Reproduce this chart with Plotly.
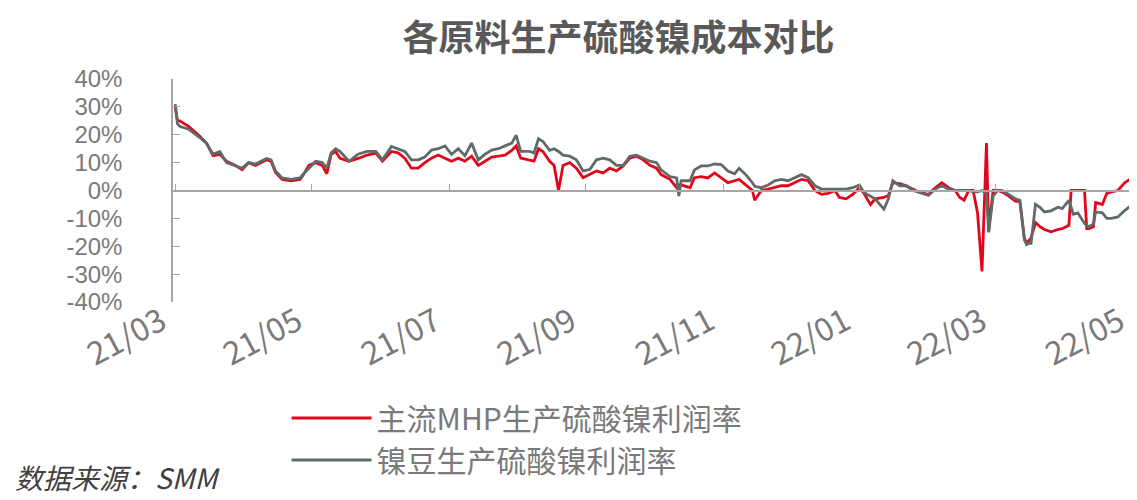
import plotly.graph_objects as go

dates = [
    "2021-03-01", "2021-03-02", "2021-03-03", "2021-03-07", "2021-03-12", "2021-03-15", "2021-03-18",
    "2021-03-21", "2021-03-24", "2021-03-28", "2021-03-31", "2021-04-03", "2021-04-06", "2021-04-11",
    "2021-04-13", "2021-04-15", "2021-04-18", "2021-04-22", "2021-04-26", "2021-04-27", "2021-04-30",
    "2021-05-03", "2021-05-06", "2021-05-08", "2021-05-10", "2021-05-12", "2021-05-14", "2021-05-18",
    "2021-05-22", "2021-05-26", "2021-05-30", "2021-06-02", "2021-06-06", "2021-06-09", "2021-06-12",
    "2021-06-15", "2021-06-18", "2021-06-21", "2021-06-24", "2021-06-27", "2021-06-30", "2021-07-03",
    "2021-07-06", "2021-07-09", "2021-07-12", "2021-07-15", "2021-07-18", "2021-07-21", "2021-07-24",
    "2021-07-27", "2021-07-30", "2021-08-01", "2021-08-03", "2021-08-07", "2021-08-09", "2021-08-11",
    "2021-08-13", "2021-08-16", "2021-08-18", "2021-08-20", "2021-08-22", "2021-08-25", "2021-08-28",
    "2021-08-31", "2021-09-03", "2021-09-06", "2021-09-09", "2021-09-12", "2021-09-15", "2021-09-18",
    "2021-09-21", "2021-09-24", "2021-09-27", "2021-09-30", "2021-10-03", "2021-10-05", "2021-10-09",
    "2021-10-12", "2021-10-13", "2021-10-14", "2021-10-18", "2021-10-20", "2021-10-23", "2021-10-26",
    "2021-10-29", "2021-11-01", "2021-11-04", "2021-11-07", "2021-11-09", "2021-11-12", "2021-11-15",
    "2021-11-16", "2021-11-19", "2021-11-22", "2021-11-25", "2021-11-28", "2021-12-01", "2021-12-04",
    "2021-12-07", "2021-12-10", "2021-12-13", "2021-12-16", "2021-12-19", "2021-12-22", "2021-12-24",
    "2021-12-27", "2021-12-30", "2022-01-02", "2022-01-04", "2022-01-07", "2022-01-09", "2022-01-13",
    "2022-01-15", "2022-01-17", "2022-01-20", "2022-01-23", "2022-01-26", "2022-01-29", "2022-02-02",
    "2022-02-05", "2022-02-08", "2022-02-11", "2022-02-14", "2022-02-16", "2022-02-18", "2022-02-20",
    "2022-02-22", "2022-02-24", "2022-02-26", "2022-02-28", "2022-03-01", "2022-03-03", "2022-03-05",
    "2022-03-07", "2022-03-10", "2022-03-13", "2022-03-15", "2022-03-17", "2022-03-18", "2022-03-19",
    "2022-03-20", "2022-03-22", "2022-03-24", "2022-03-26", "2022-03-29", "2022-04-01", "2022-04-03",
    "2022-04-06", "2022-04-07", "2022-04-08", "2022-04-10", "2022-04-13", "2022-04-14", "2022-04-15",
    "2022-04-17", "2022-04-18", "2022-04-21", "2022-04-23", "2022-04-25", "2022-04-28", "2022-05-01",
    "2022-05-03", "2022-05-05", "2022-05-07",
]

mhp_margin = [
    30, 25, 25, 23, 19.5, 17, 12.5,
    13, 10.5, 9, 7.5, 10, 9, 11,
    10.5, 6.5, 4, 3.5, 4, 5, 9,
    10, 9, 6, 13, 14, 11.5, 10.5,
    11.5, 12.7, 13.4, 10.5, 14, 13.5, 11.6,
    8, 8, 10, 11.6, 12.7, 11.6, 10.5,
    11.6, 10.5, 12.3, 9, 10.5, 12, 12.3,
    12.7, 14.4, 16, 11.6, 11, 10.5, 15,
    14, 10.5, 9, 0, 9, 10, 8,
    4.6, 5.7, 7, 6.3, 8, 7, 8.8,
    11.6, 12.3, 11, 9, 8, 5.7, 4,
    1, 2, 2, 1, 4.6, 5, 4.5,
    6.3, 4.5, 2.8, 3.5, 4, 2, 0,
    -3.5, 0, 0.5, 1, 1.7, 1.7, 2.8,
    4, 3.5, 0, -1.4, -1, 0, -2.5,
    -3, -1.4, 1, -1, -5, -3, -2.5,
    -1.8, 2.8, 2.5, 1.7, 0.5, -0.7, -1.4,
    1, 2.8, 1, 0, -2.5, -3.5, 0,
    0, -8, -29, 17, -14, 0, 0,
    -0.5, -2, -3.8, -4, -17, -19, -18,
    -17, -11.5, -13, -14, -14.8, -14, -13.7,
    -12.5, 0, 0, 0, 0, -13.7, -13.7,
    -13, -4.3, -5, -1, -0.5, 0, 2.8,
    3.8, 4.8, 5,
]

bean_margin = [
    31, 24, 23, 22, 19, 17, 13,
    14, 10, 9, 8, 10, 9.5, 11.5,
    11, 7, 4.5, 4, 4.5, 5.5, 8,
    10.5, 10, 8, 13.5, 15, 14, 10.5,
    13, 14, 14, 11, 15.8, 15, 14,
    11, 11, 12, 14.5, 15, 16, 13,
    15, 12.5, 17, 11, 13, 14.5, 15,
    16, 17, 19.8, 14, 14, 13.5, 18.6,
    17.6, 14.4, 15, 14, 12.7, 12.3, 11,
    7, 7.5, 11, 11.6, 11, 9, 9,
    12.3, 12.7, 11.5, 10.5, 10, 7.4, 5,
    4.5, -2, 3.5, 3.5, 7.4, 8.8, 8.8,
    9.5, 9.3, 7, 6, 8, 5.7, 2.8,
    1.5, 1, 2, 3.5, 4, 3.5, 4.6,
    5.7, 4.6, 1.7, 0.5, 0.5, 0.5, 0.5,
    0.5, 1, 2, -0.7, -2, -3, -6.7,
    -3, 3.5, 1.7, 1.7, 0, -0.7, -1.8,
    0.5, 1.7, 0.5, 0, 0, 0, 0,
    -0.5, -0.5, 0, -1, -15, -2, 0,
    0, -1.4, -3, -3.5, -17.6, -19.4, -19,
    -19, -4.9, -6, -7.7, -7.3, -6, -6.5,
    -3.5, -6, -8.5, -8, -11.8, -12.5, -13,
    -12, -7.7, -8, -10, -10, -9.5, -7.2,
    -6, -4.3, -6,
]

tick_dates = ["2021-03-01", "2021-05-01", "2021-07-02", "2021-09-01",
              "2021-11-02", "2022-01-02", "2022-03-04", "2022-05-05"]
tick_labels = ["21/03", "21/05", "21/07", "21/09", "21/11", "22/01", "22/03", "22/05"]
y_ticks = [-40, -30, -20, -10, 0, 10, 20, 30, 40]
y_labels = [f"{v}%" for v in y_ticks]

FONT = "Noto Sans CJK SC"
NUM_FONT = "Liberation Sans"
GRAY_TXT = "#7a7a7a"
AX = "#a6a6a6"

fig = go.Figure()
fig.add_trace(go.Scatter(x=dates, y=mhp_margin, mode="lines", name="主流MHP生产硫酸镍利润率",
                         line=dict(color="#e3061b", width=2.8)))
fig.add_trace(go.Scatter(x=dates, y=bean_margin, mode="lines", name="镍豆生产硫酸镍利润率",
                         line=dict(color="#5e6b67", width=2.8), xaxis="x2"))

x_range = ["2021-02-28", "2022-05-07"]

fig.update_layout(
    width=1137, height=500,
    margin=dict(l=165, r=7, t=71, b=206, autoexpand=False),
    paper_bgcolor="white", plot_bgcolor="white",
    showlegend=True,
    title=dict(text="<b>各原料生产硫酸镍成本对比</b>", x=0.537, xanchor="center",
               y=0.94, yanchor="middle", xref="container", yref="container",
               font=dict(family=FONT, size=36, color="#595959")),
    xaxis=dict(type="date", range=x_range, tickvals=tick_dates, ticktext=tick_labels,
               tickangle=-28, showline=False, showgrid=False, zeroline=False, ticks="",
               ticklabeloverflow="allow", ticklabelshift=-14, ticklabelstandoff=-6,
               tickfont=dict(family=FONT, size=32, color=GRAY_TXT)),
    xaxis2=dict(type="date", matches="x", overlaying="x", anchor="free", position=0.5,
                side="bottom", tickvals=tick_dates, showticklabels=False,
                showline=True, linecolor=AX, linewidth=1.5, ticks="inside", ticklen=6,
                tickcolor=AX, tickwidth=1.2, showgrid=False, zeroline=False),
    yaxis=dict(range=[-40, 40], tickvals=y_ticks, ticktext=y_labels,
               showline=True, linecolor=AX, linewidth=1.5, ticks="inside", ticklen=7,
               tickcolor=AX, tickwidth=1.2, showgrid=False, zeroline=False,
               ticklabelstandoff=44,
               tickfont=dict(family=NUM_FONT, size=24, color=GRAY_TXT)),
    legend=dict(xref="container", yref="container", x=0.245, y=0.232, xanchor="left",
                yanchor="top", orientation="v", itemwidth=80, tracegroupgap=0,
                font=dict(family=FONT, size=30, color=GRAY_TXT), bgcolor="rgba(0,0,0,0)"),
    annotations=[dict(text="<i>数据来源：SMM</i>", xref="paper", yref="paper",
                      x=0, y=0, xanchor="left", yanchor="bottom", showarrow=False,
                      xshift=-160, yshift=-197,
                      font=dict(family=FONT, size=28, color="#404040"))],
)

fig.write_html("out.html")
